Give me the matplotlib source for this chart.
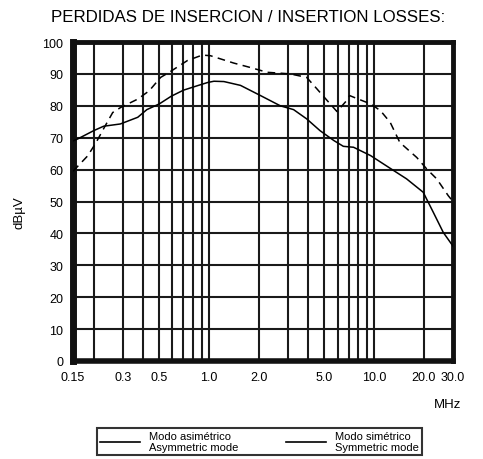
import matplotlib
matplotlib.use("Agg")
import matplotlib.pyplot as plt
from matplotlib.lines import Line2D

plt.rcParams['font.family'] = ['Liberation Sans', 'DejaVu Sans']

# ---- data ----
freq_asym = [0.15, 0.16, 0.20, 0.23, 0.29, 0.37, 0.42, 0.50, 0.59, 0.70, 0.85, 0.98,
             1.07, 1.23, 1.55, 2.05, 2.70, 3.25, 3.90, 4.70, 5.70, 6.50, 7.50, 9.50,
             12.5, 15.7, 19.8, 22.8, 26.2, 30.0]
level_asym = [69.0, 69.6, 72.2, 73.6, 74.3, 76.4, 78.8, 80.6, 83.0, 84.9, 86.3, 87.3,
              87.7, 87.6, 86.4, 83.2, 80.0, 78.8, 75.9, 72.2, 69.1, 67.3, 67.0, 64.4,
              60.4, 57.1, 52.9, 46.6, 40.3, 36.0]

freq_sym = [0.15, 0.16, 0.184, 0.206, 0.232, 0.261, 0.292, 0.37, 0.434, 0.509, 0.586,
            0.74, 0.91, 1.02, 1.41, 1.78, 2.25, 3.10, 3.90, 4.50, 5.20, 5.95, 6.80,
            7.10, 8.20, 9.50, 10.9, 12.5, 14.3, 18.1, 20.8, 23.9, 28.1, 30.0]
level_sym = [59.5, 61.0, 64.3, 68.3, 73.2, 77.9, 79.5, 82.1, 84.7, 88.9, 90.8,
             94.2, 95.9, 95.7, 93.4, 92.0, 90.5, 90.0, 88.9, 85.3, 81.6, 78.2, 81.6,
             83.2, 81.9, 80.6, 78.5, 74.8, 68.5, 63.8, 60.2, 57.1, 51.8, 50.0]

x_grid = [0.2, 0.3, 0.4, 0.5, 0.6, 0.7, 0.8, 0.9, 1.0, 2, 3, 4, 5, 6, 7, 8, 9, 10, 20]
y_grid = [10, 20, 30, 40, 50, 60, 70, 80, 90]
x_ticks = [0.15, 0.3, 0.5, 1.0, 2.0, 5.0, 10.0, 20.0, 30.0]
x_tick_labels = ["0.15", "0.3", "0.5", "1.0", "2.0", "5.0", "10.0", "20.0", "30.0"]
y_ticks = [0, 10, 20, 30, 40, 50, 60, 70, 80, 90, 100]

title = "PERDIDAS DE INSERCION / INSERTION LOSSES:"
legend_labels = ["Modo asimétrico\nAsymmetric mode", "Modo simétrico\nSymmetric mode"]

W, H = 483, 460
fig = plt.figure(figsize=(W / 100, H / 100), dpi=100)
fig.patch.set_facecolor("white")
ax = fig.add_axes([73 / W, 1 - 362 / H, (453 - 73) / W, (362 - 43) / H])

ax.set_xscale("log")
ax.set_xlim(0.15, 30)
ax.set_ylim(0, 100)

for xv in x_grid:
    ax.axvline(xv, color="#1a1a1a", lw=1.5, zorder=1)
for yv in y_grid:
    ax.axhline(yv, color="#1a1a1a", lw=1.5, zorder=1)

ax.plot(freq_asym, level_asym, color="black", lw=1.1, zorder=3)
ax.plot(freq_sym, level_sym, color="black", lw=1.1, ls=(0, (5, 3.5)), zorder=3)

ax.set_xticks(x_ticks)
ax.set_xticklabels(x_tick_labels)
ax.xaxis.set_minor_locator(matplotlib.ticker.NullLocator())
ax.set_yticks(y_ticks)
ax.tick_params(axis="both", length=0, labelsize=9)
ax.tick_params(axis="y", pad=7)
ax.tick_params(axis="x", pad=7)

for side, lw in (("left", 5.0), ("bottom", 4.0), ("top", 3.5), ("right", 3.5)):
    ax.spines[side].set_linewidth(lw)
    ax.spines[side].set_color("#111111")

fig.text(248 / W, 1 - 17 / H, title, ha="center", va="center", fontsize=12.2)
fig.text(19 / W, 1 - 213 / H, "dBµV", ha="center", va="center", rotation=90, fontsize=9.5)
fig.text(448 / W, 1 - 405 / H, "MHz", ha="center", va="center", fontsize=9.5)

handles = [Line2D([], [], color="black", lw=1.2), Line2D([], [], color="black", lw=1.2)]
leg = fig.legend(handles, legend_labels, ncol=2, loc="center",
                 bbox_to_anchor=((96 + 423) / 2 / W, 1 - (428 + 457) / 2 / H),
                 fontsize=8, frameon=True, fancybox=False, handlelength=3.6,
                 handletextpad=0.8, columnspacing=4.3, borderpad=0.25,
                 labelspacing=0.1)
leg.get_frame().set_edgecolor("black")
leg.get_frame().set_linewidth(1.5)

fig.savefig("out.png", dpi=100, facecolor="white")
